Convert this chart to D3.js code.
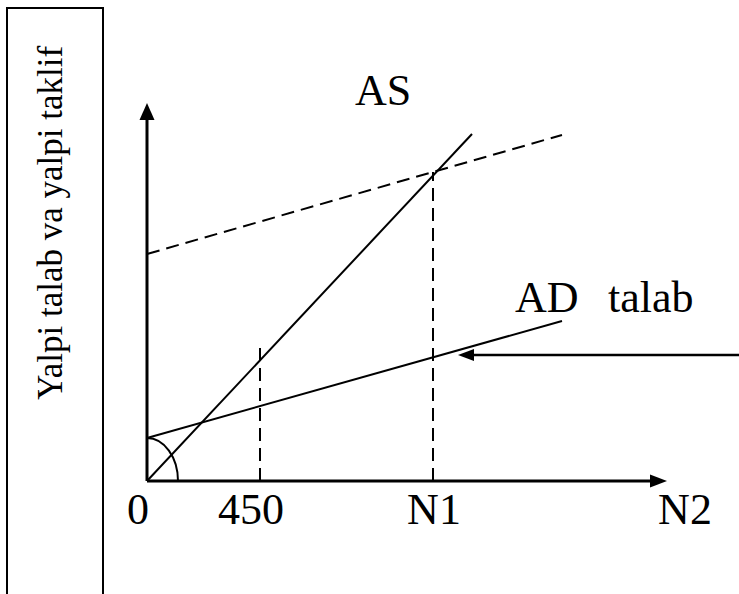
<!DOCTYPE html>
<html><head><meta charset="utf-8">
<script src="https://cdn.jsdelivr.net/npm/d3@7"></script>
<style>html,body{margin:0;padding:0;background:#fff;}svg{display:block;}</style>
</head><body>
<svg id="c" width="739" height="594"></svg>
<script>
// data (units: horizontal output along x, aggregate demand/supply along y)
const yTitle = "Yalpi talab va yalpi taklif";
const tickLabels = ["0", "450", "N1", "N2"];
const tickPos = [-9, 104, 287, 538];
const asLine = [[0, 0], [325, 347]];
const adLine = [[0, 43], [415, 160]];
const shiftedLine = [[0, 227], [415, 346]];
const guide450 = [[113, 0], [113, 138]];
const guideN1 = [[286, 0], [286, 309]];
const pushArrow = [[592, 126], [311, 126]];
const xAxisEnd = 520, yAxisEnd = 378;
const seriesLabels = [{t: "AS", x: 208, y: 376}, {t: "AD", x: 368, y: 169}, {t: "talab", x: 461, y: 169}];

const svg = d3.select("#c");
const x = d3.scaleLinear().domain([0, 520]).range([147, 667]);
const y = d3.scaleLinear().domain([0, 378]).range([481, 103]);
const line = d3.line().x(d => x(d[0])).y(d => y(d[1]));
const serif = (sel, size) => sel.style("font-family", "'Liberation Serif'").attr("font-size", size);

// left box with rotated title
svg.append("rect").attr("x", 7).attr("y", 8).attr("width", 96).attr("height", 600)
  .attr("fill", "none").attr("stroke", "#000").attr("stroke-width", 2);
svg.selectAll("text.title").data([yTitle]).join("text").attr("class", "title")
  .attr("transform", "translate(62,223) rotate(-90)")
  .attr("text-anchor", "middle").call(serif, 35).text(d => d);

// axes
svg.append("path").attr("d", line([[0, 0], [0, yAxisEnd - 16]])).attr("stroke", "#000").attr("stroke-width", 3).attr("fill", "none");
svg.append("path").attr("d", line([[0, 0], [xAxisEnd - 16, 0]])).attr("stroke", "#000").attr("stroke-width", 3).attr("fill", "none");
const tri = (tip, dir, len, hw) => {
  const [tx, ty] = [x(tip[0]), y(tip[1])];
  if (dir === "up") return `M${tx},${ty}L${tx - hw},${ty + len}L${tx + hw},${ty + len}Z`;
  if (dir === "right") return `M${tx},${ty}L${tx - len},${ty - hw}L${tx - len},${ty + hw}Z`;
  return `M${tx},${ty}L${tx + len},${ty - hw}L${tx + len},${ty + hw}Z`;
};
svg.append("path").attr("d", tri([0, yAxisEnd], "up", 17, 7.5)).attr("fill", "#000");
svg.append("path").attr("d", tri([xAxisEnd, 0], "right", 17, 6.5)).attr("fill", "#000");

// lines
svg.append("path").attr("d", line(asLine)).attr("stroke", "#000").attr("stroke-width", 2).attr("fill", "none");
svg.append("path").attr("d", line(adLine)).attr("stroke", "#000").attr("stroke-width", 2).attr("fill", "none");
svg.append("path").attr("d", line(shiftedLine)).attr("stroke", "#000").attr("stroke-width", 2).attr("fill", "none").attr("stroke-dasharray", "13,7");
svg.append("path").attr("d", line(guide450)).attr("stroke", "#000").attr("stroke-width", 2).attr("fill", "none").attr("stroke-dasharray", "13,7");
svg.append("path").attr("d", line(guideN1)).attr("stroke", "#000").attr("stroke-width", 2).attr("fill", "none").attr("stroke-dasharray", "13,7");

// angle arc
const rx = x(31) - x(0), ry = y(0) - y(43);
svg.append("path").attr("d", `M${x(31)},${y(0)}A${rx},${ry} 0 0 0 ${x(0)},${y(43)}`)
  .attr("stroke", "#000").attr("stroke-width", 2).attr("fill", "none");

// push arrow
svg.append("path").attr("d", line([pushArrow[0], [pushArrow[1][0] + 14, pushArrow[1][1]]])).attr("stroke", "#000").attr("stroke-width", 2.5).attr("fill", "none");
svg.append("path").attr("d", tri(pushArrow[1], "left", 16, 6)).attr("fill", "#000");

// labels
svg.selectAll("text.tick").data(tickLabels).join("text").attr("class", "tick")
  .attr("x", (d, i) => x(tickPos[i])).attr("y", 524).attr("text-anchor", "middle")
  .call(serif, 44).text(d => d);
svg.selectAll("text.lab").data(seriesLabels).join("text").attr("class", "lab")
  .attr("x", d => x(d.x)).attr("y", d => y(d.y))
  .call(serif, 44).text(d => d.t);
</script>
</body></html>
